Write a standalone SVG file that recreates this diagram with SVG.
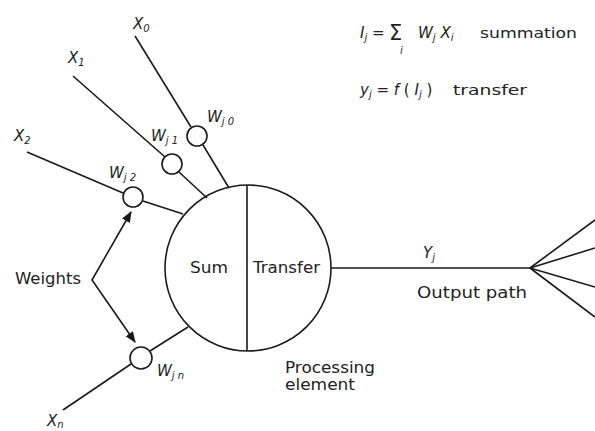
<svg xmlns="http://www.w3.org/2000/svg" width="595" height="431" viewBox="0 0 595 431">
<defs>
<style>
.ln{stroke:#1a1a1a;stroke-width:1.6;fill:none}
.wc{stroke:#1a1a1a;stroke-width:1.6;fill:#fff}
.t{font-family:"DejaVu Sans","Liberation Sans",sans-serif;font-size:14px;fill:#222}
.m{font-size:15px}
.v{font-family:"DejaVu Sans","Liberation Sans",sans-serif;font-size:15px;font-style:italic;fill:#222}
.s{font-size:10px}
</style>
<marker id="ah" viewBox="0 0 10 10" refX="9" refY="5" markerWidth="7" markerHeight="7" orient="auto-start-reverse">
<path d="M0,1 L10,5 L0,9 Z" fill="#1a1a1a"/>
</marker>
</defs>
<rect width="595" height="431" fill="#fff"/>
<g id="connectors">
<line class="ln" x1="135" y1="36" x2="191" y2="127"/>
<line class="ln" x1="203" y1="145" x2="229" y2="188"/>
<line class="ln" x1="73" y1="76" x2="165" y2="157"/>
<line class="ln" x1="179" y1="172" x2="207" y2="198"/>
<line class="ln" x1="27" y1="152" x2="123" y2="193"/>
<line class="ln" x1="143" y1="201" x2="183" y2="214"/>
<line class="ln" x1="150" y1="351" x2="188" y2="327"/>
<line class="ln" x1="131" y1="364" x2="63" y2="410"/>
<line class="ln" x1="331" y1="268" x2="530" y2="268"/>
<line class="ln" x1="530" y1="268" x2="595" y2="220"/>
<line class="ln" x1="530" y1="268" x2="595" y2="248"/>
<line class="ln" x1="530" y1="268" x2="595" y2="287"/>
<line class="ln" x1="530" y1="268" x2="595" y2="317"/>
<polyline class="ln" points="131,212 92,280 135,342" marker-start="url(#ah)" marker-end="url(#ah)"/>
</g>
<g id="processing-element">
<circle class="ln" cx="248" cy="268" r="83"/>
<line class="ln" x1="247" y1="185" x2="247" y2="351"/>
<text class="t m" x="190" y="273" textLength="38" lengthAdjust="spacingAndGlyphs">Sum</text>
<text class="t m" x="253" y="273" textLength="67" lengthAdjust="spacingAndGlyphs">Transfer</text>
<text class="t m" x="285" y="373" textLength="90" lengthAdjust="spacingAndGlyphs">Processing</text>
<text class="t m" x="285" y="390" textLength="70" lengthAdjust="spacingAndGlyphs">element</text>
</g>
<g id="w0"><circle class="wc" cx="197" cy="136" r="10"/><text class="v" x="207" y="122">W<tspan class="s" dy="3">j 0</tspan></text></g>
<g id="w1"><circle class="wc" cx="172" cy="164" r="10"/><text class="v" x="151" y="141">W<tspan class="s" dy="3">j 1</tspan></text></g>
<g id="w2"><circle class="wc" cx="133" cy="197" r="10"/><text class="v" x="109" y="178">W<tspan class="s" dy="3">j 2</tspan></text></g>
<g id="wn"><circle class="wc" cx="141" cy="358" r="11"/><text class="v" x="157" y="376">W<tspan class="s" dy="3">j n</tspan></text></g>
<g id="x0"><text class="v" x="133" y="29">X<tspan class="s" dy="3">0</tspan></text></g>
<g id="x1"><text class="v" x="68" y="63">X<tspan class="s" dy="3">1</tspan></text></g>
<g id="x2"><text class="v" x="14" y="141">X<tspan class="s" dy="3">2</tspan></text></g>
<g id="xn"><text class="v" x="47" y="426">X<tspan class="s" dy="2">n</tspan></text></g>
<g id="weights"><text class="t m" x="15" y="284" textLength="66" lengthAdjust="spacingAndGlyphs">Weights</text></g>
<g id="output">
<text class="v" x="423" y="258">Y<tspan class="s" dy="3">j</tspan></text>
<text class="t m" x="417" y="298" textLength="110" lengthAdjust="spacingAndGlyphs">Output path</text>
</g>
<g id="formulas">
<text class="v" x="360" y="38">I<tspan class="s" dy="3">j</tspan><tspan dy="-3" font-style="normal"> = </tspan></text>
<text class="t" x="389" y="40" style="font-size:21px">Σ</text>
<text class="v s" x="400" y="54">i</text>
<text class="v" x="418" y="38">W<tspan class="s" dy="3">j</tspan><tspan dy="-3"> X</tspan><tspan class="s" dy="3">i</tspan></text>
<text class="t" x="480" y="38" textLength="97" lengthAdjust="spacingAndGlyphs">summation</text>
<text class="v" x="360" y="95">y<tspan class="s" dy="3">j</tspan><tspan dy="-3" font-style="normal"> = </tspan>f<tspan font-style="normal"> ( </tspan>I<tspan class="s" dy="3">j</tspan><tspan dy="-3" font-style="normal"> )</tspan></text>
<text class="t" x="453" y="95" textLength="74" lengthAdjust="spacingAndGlyphs">transfer</text>
</g>
</svg>
